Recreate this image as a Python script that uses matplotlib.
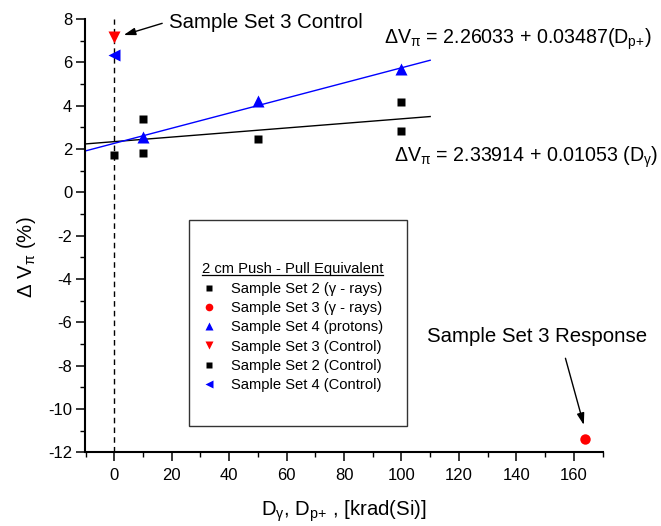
import matplotlib
matplotlib.use("Agg")
import matplotlib.pyplot as plt
from matplotlib.lines import Line2D
from matplotlib.patches import Rectangle
from matplotlib.ticker import MultipleLocator

plt.rcParams["font.family"] = ["Liberation Sans", "DejaVu Sans"]
plt.rcParams["mathtext.default"] = "regular"
plt.rcParams["axes.unicode_minus"] = False

# ---- measured phase-voltage shifts vs. dose -------------------------------
ss2_gamma_dose = [10, 10, 50, 100, 100]
ss2_gamma_dv = [1.8, 3.4, 2.47, 2.84, 4.18]

ss3_gamma_dose = [164]
ss3_gamma_dv = [-11.4]

ss4_proton_dose = [10, 50, 100]
ss4_proton_dv = [2.55, 4.2, 5.67]

ss3_ctrl_dose = [0]
ss3_ctrl_dv = [7.19]

ss2_ctrl_dose = [0]
ss2_ctrl_dv = [1.72]

ss4_ctrl_dose = [0]
ss4_ctrl_dv = [6.33]

# linear fits: dV = a + b * D
fit_gamma = (2.33914, 0.01053)
fit_proton = (2.26033, 0.03487)
fit_span = [-10, 110]

legend_title = "2 cm Push - Pull Equivalent"
legend_labels = [
    "Sample Set 2 (\u03b3 - rays)",
    "Sample Set 3 (\u03b3 - rays)",
    "Sample Set 4 (protons)",
    "Sample Set 3 (Control)",
    "Sample Set 2 (Control)",
    "Sample Set 4 (Control)",
]

BLUE = "#0000ff"
RED = "#ff0000"

W, H = 661, 526
fig = plt.figure(figsize=(W / 100, H / 100), dpi=100)
ax = fig.add_axes([85.5 / W, 1 - 452.3 / H, 517 / W, 433.3 / H])


def fpx(px, py):
    """figure-pixel position (origin top-left) -> figure fraction"""
    return px / W, 1 - py / H


# zero-dose reference line
ax.axvline(0, color="k", lw=1.0, ls=(0, (4, 3)), zorder=1)

# fit lines
ax.plot(fit_span, [fit_gamma[0] + fit_gamma[1] * x for x in fit_span],
        color="k", lw=1.0, zorder=2)
ax.plot(fit_span, [fit_proton[0] + fit_proton[1] * x for x in fit_span],
        color=BLUE, lw=1.0, zorder=2)

# data series
series = [
    (ss2_gamma_dose, ss2_gamma_dv, "s", "k", 5.8),
    (ss3_gamma_dose, ss3_gamma_dv, "o", RED, 7.5),
    (ss4_proton_dose, ss4_proton_dv, "^", BLUE, 8.5),
    (ss3_ctrl_dose, ss3_ctrl_dv, "v", RED, 8.5),
    (ss2_ctrl_dose, ss2_ctrl_dv, "s", "k", 5.8),
    (ss4_ctrl_dose, ss4_ctrl_dv, "<", BLUE, 8.5),
]
for xs, ys, m, c, ms in series:
    ax.plot(xs, ys, ls="none", marker=m, color=c, mec="none", ms=ms,
            zorder=3, clip_on=False)

ax.set_xlim(-10, 170)
ax.set_ylim(-12, 8)
ax.xaxis.set_major_locator(MultipleLocator(20))
ax.xaxis.set_minor_locator(MultipleLocator(10))
ax.yaxis.set_major_locator(MultipleLocator(2))
ax.yaxis.set_minor_locator(MultipleLocator(1))

for side in ("top", "right"):
    ax.spines[side].set_visible(False)
for side in ("left", "bottom"):
    ax.spines[side].set_linewidth(1.5)

ax.tick_params(which="major", direction="out", length=6.5, width=1.1,
               labelsize=12)
ax.tick_params(which="minor", direction="out", length=3.5, width=1.0)
ax.tick_params(axis="y", pad=3)
ax.tick_params(axis="x", pad=5)

ax.set_xlabel("D$_{\u03b3}$, D$_{p{+}}$ , [krad(Si)]", fontsize=14.7)
ax.xaxis.set_label_coords(0.5, -0.107)
ax.set_ylabel("\u0394 V$_{\u03c0}$ (%)", fontsize=14.7)
ax.yaxis.set_label_coords(-0.092, 0.451)

# annotations
ax.text(18.9, 7.57, "Sample Set 3 Control", fontsize=14.7, ha="left",
        va="baseline")
ax.annotate("", xy=(3.3, 7.26), xytext=(16.7, 7.8),
            arrowprops=dict(arrowstyle="-|>,head_length=0.7,head_width=0.22",
                            color="k", lw=1.0, shrinkA=0, shrinkB=0))
ax.text(108.8, -6.89, "Sample Set 3 Response", fontsize=14.7, ha="left",
        va="baseline")
ax.annotate("", xy=(163.5, -10.74), xytext=(157.1, -7.66),
            arrowprops=dict(arrowstyle="-|>,head_length=0.7,head_width=0.22",
                            color="k", lw=1.0, shrinkA=0, shrinkB=0))

ax.text(94.0, 6.88,
        "\u0394V$_{\u03c0}$ = %.5f + %.5f(D$_{p{+}}$)" % fit_proton,
        fontsize=14.1, ha="left", va="baseline")
ax.text(97.5, 1.41,
        "\u0394V$_{\u03c0}$ = %.5f + %.5f (D$_{\u03b3}$)" % fit_gamma,
        fontsize=14.1, ha="left", va="baseline")

# legend box drawn in figure coordinates
x0, y0 = fpx(189.3, 426)
x1, y1 = fpx(407.3, 220)
fig.add_artist(Rectangle((x0, y0), x1 - x0, y1 - y0, transform=fig.transFigure,
                         fill=False, edgecolor="#333333", lw=1.0))
tx, ty = fpx(201.7, 273.5)
title = fig.text(tx, ty, legend_title, fontsize=10.6, ha="left", va="baseline")
fig.canvas.draw()
bb = title.get_window_extent()
ux0, uy = fpx(201.7, 275.3)
fig.add_artist(Line2D([ux0, ux0 + bb.width / W], [uy, uy],
                      transform=fig.transFigure, color="k", lw=0.9))

legend_ms = [4.2, 5.5, 6.3, 6.3, 4.2, 6.3]
for i, (label, (_, _, m, c, _), lms) in enumerate(zip(legend_labels, series,
                                                        legend_ms)):
    base = 293.3 + i * 19.1
    mx, my = fpx(209.3, base - 5.2)
    fig.add_artist(Line2D([mx], [my], transform=fig.transFigure, ls="none",
                          marker=m, color=c, mec="none", ms=lms))
    lx, ly = fpx(231, base)
    fig.text(lx, ly, label, fontsize=10.6, ha="left", va="baseline")

fig.savefig("out.png", dpi=100, facecolor="white")
